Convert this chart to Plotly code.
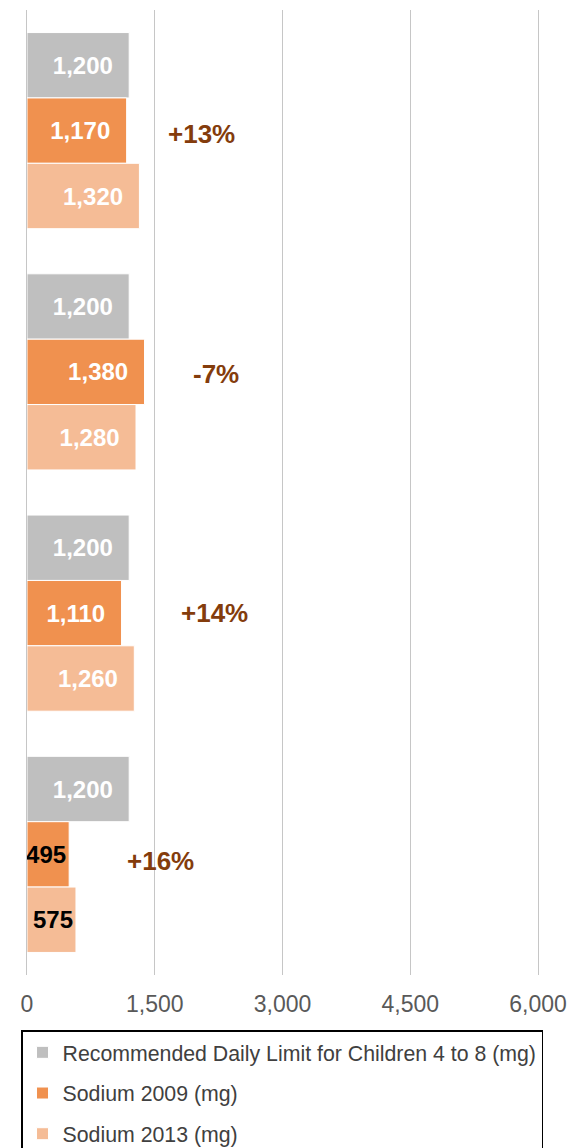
import plotly.graph_objects as go

# ---- data ----
categories = ["Group 1", "Group 2", "Group 3", "Group 4"]
limit_mg = [1200, 1200, 1200, 1200]
sodium_2009 = [1170, 1380, 1110, 495]
sodium_2013 = [1320, 1280, 1260, 575]
pct_change = ["+13%", "-7%", "+14%", "+16%"]
series_names = [
    "Recommended Daily Limit for Children 4 to 8 (mg)",
    "Sodium 2009 (mg)",
    "Sodium 2013 (mg)",
]
x_ticks = [0, 1500, 3000, 4500, 6000]

# ---- styling / layout positions ----
colors = ["#BFBFBF", "#F0914F", "#F5BC96"]
pct_label_x = [2043, 2219, 2207, 1573]
pct_label_yshift = [-3, -2, 0, -7]
FONT = "Liberation Sans, Arial, sans-serif"
NB = "\u00a0"
GRID = "#C6C6C6"


def labels(vals):
    return [f"{v:,}" + (NB * 2 if v >= 1000 else "") for v in vals]


def label_colors(vals):
    return ["white" if v >= 1000 else "black" for v in vals]


fig = go.Figure()
for name, vals, col in zip(series_names, [limit_mg, sodium_2009, sodium_2013], colors):
    fig.add_trace(go.Bar(
        y=categories, x=vals, name=name, orientation="h",
        marker=dict(color=col, line=dict(color="white", width=1)),
        text=labels(vals), textposition="inside", insidetextanchor="end",
        textangle=0,
        textfont=dict(family=FONT, size=24, color=label_colors(vals), weight="bold"),
        legendgroup=name, hoverinfo="x+name",
    ))

for cat, txt, px, ys in zip(categories, pct_change, pct_label_x, pct_label_yshift):
    fig.add_annotation(
        x=px, y=cat, xref="x", yref="y", text=f"<b>{txt}</b>", showarrow=False,
        yshift=ys, font=dict(family=FONT, size=26, color="#843C0C"),
    )

fig.update_layout(
    width=571, height=1148,
    margin=dict(l=27, r=33, t=10, b=173, autoexpand=False),
    paper_bgcolor="white", plot_bgcolor="white",
    barmode="group", bargap=0.187, bargroupgap=0,
    uniformtext=dict(minsize=24, mode="show"),
    font=dict(family=FONT, color="#595959"),
    xaxis=dict(
        range=[0, 6000], tickvals=x_ticks, tickformat=",",
        showgrid=True, gridcolor=GRID, gridwidth=1.3,
        zeroline=False, showline=False,
        ticks="outside", ticklen=8, tickcolor="rgba(0,0,0,0)",
        tickfont=dict(family=FONT, size=23, color="#595959"),
    ),
    yaxis=dict(
        autorange="reversed", showticklabels=False, showgrid=False,
        zeroline=False, showline=True, mirror=True,
        linecolor=GRID, linewidth=1.3, ticks="",
    ),
    showlegend=True,
    legend=dict(
        orientation="v", x=-0.0117, xanchor="left", y=-0.0575, yanchor="top",
        bordercolor="black", borderwidth=1.5, bgcolor="white",
        font=dict(family=FONT, size=21.3, color="#404040"),
        traceorder="grouped", tracegroupgap=10, itemwidth=30,
    ),
)

fig.write_html(
    "out.html",
    config={"displayModeBar": False},
    post_script="document.body.style.margin='0';document.body.style.overflow='hidden';",
)
